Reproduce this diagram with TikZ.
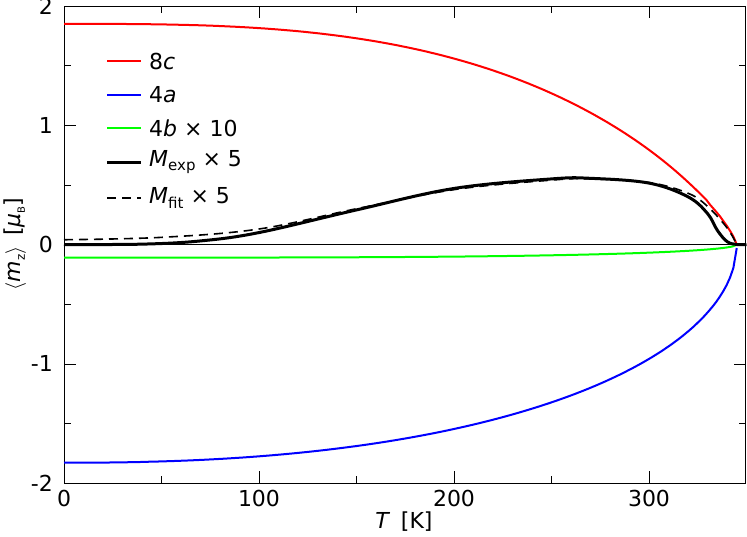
\documentclass[tikz,border=0pt]{standalone}
\usepackage{fontspec}
\setmainfont{DejaVu Sans}
\newcommand\lowsub[2]{\raisebox{-0.35ex}{\fontsize{#1}{#1}\selectfont #2}}
\begin{document}
\begin{tikzpicture}[x=1pt,y=-1pt,
  lbl/.style={font=\fontsize{22}{24}\selectfont, inner sep=0pt},
  curve/.style={line width=2pt},
  sred/.style={curve,red}, sblue/.style={curve,blue}, sgreen/.style={curve,green},
  sexp/.style={line width=3pt},
  fitline/.style={line width=1.6pt, dash pattern=on 9pt off 6pt}]
\useasboundingbox (0,0) rectangle (747,536);
\def\X#1{64+1.95*#1}
\def\Y#1{244.5-119.25*#1}
% frame
\draw[line width=1pt] (64,6) rectangle (745.5,483);
% x ticks
\foreach \t in {0,100,200,300}{
  \draw (\X{\t},483) -- ++(0,-12); \draw (\X{\t},6) -- ++(0,12);
  \node[lbl,anchor=north] (xt\t) at (\X{\t},490) {\t};}
\foreach \t in {50,150,250}{
  \draw (\X{\t},483) -- ++(0,-7); \draw (\X{\t},6) -- ++(0,7);}
% y ticks
\foreach \v/\s in {2/2,1/1,0/0,-1/-1,-2/-2}{
  \draw (64,\Y{\v}) -- ++(12,0); \draw (745.5,\Y{\v}) -- ++(-12,0);
  \node[lbl,anchor=east] (yt\s) at (53,\Y{\v}) {\s};}
\foreach \v in {1.5,0.5,-0.5,-1.5}{
  \draw (64,\Y{\v}) -- ++(7,0); \draw (745.5,\Y{\v}) -- ++(-7,0);}
% zero line
\draw[line width=0.8pt] (64,\Y{0}) -- (745.5,\Y{0});
% axis labels
\node[lbl] (xl) at (404,522) {\textit{T}\, [K]};
\node[lbl,rotate=90] (yl) at (15,244) {$\langle$\textit{m}\lowsub{12}{z}$\rangle$\, [\textit{μ}\lowsub{10}{B}]};
% curves
\draw[sred] plot[domain=0:345,samples=200] ({\X{\x}},{\Y{1.85*(max(0,1-(\x/345)^3))^0.79}});
\draw[sblue] plot[domain=0:345,samples=200] ({\X{\x}},{\Y{-1.83*sqrt(max(0,1-(\x/345)^2.3))}});
\draw[sgreen] plot[domain=0:345,samples=150] ({\X{\x}},{\Y{-0.11*sqrt(max(0,1-(\x/345)^3.5))}});
\draw[sexp] plot[smooth,tension=0.6] coordinates {
 (\X{0},\Y{0}) (\X{40},\Y{0.003}) (\X{70},\Y{0.03}) (\X{100},\Y{0.1}) (\X{150},\Y{0.29}) (\X{200},\Y{0.47}) (\X{250},\Y{0.55}) (\X{270},\Y{0.555}) (\X{300},\Y{0.515}) (\X{320},\Y{0.40}) (\X{330},\Y{0.26}) (\X{335},\Y{0.12}) (\X{340},\Y{0.025}) (\X{345},\Y{0}) (\X{350},\Y{0})};
\draw[fitline] plot[smooth,tension=0.6] coordinates {
 (\X{0},\Y{0.04}) (\X{50},\Y{0.06}) (\X{100},\Y{0.13}) (\X{150},\Y{0.3}) (\X{200},\Y{0.46}) (\X{250},\Y{0.54}) (\X{270},\Y{0.55}) (\X{300},\Y{0.52}) (\X{320},\Y{0.43}) (\X{330},\Y{0.32}) (\X{340},\Y{0.14}) (\X{345},\Y{0})};
% legend
\foreach \yy/\st/\nm/\tx in {61/sred/l1/{8\textit{c}},95/sblue/l2/{4\textit{a}},128/sgreen/l3/{4\textit{b} × 10},162/sexp/l4/{\textit{M}\lowsub{15}{exp} × 5},198/fitline/l5/{\textit{M}\lowsub{15}{fit} × 5}}{
  \coordinate (\nm a) at (107,\yy); \coordinate (\nm b) at (141,\yy);
  \draw[\st] (\nm a) -- (\nm b);
  \node[lbl,anchor=west] (\nm t) at (149,\yy) {\tx};}
\end{tikzpicture}
\end{document}
